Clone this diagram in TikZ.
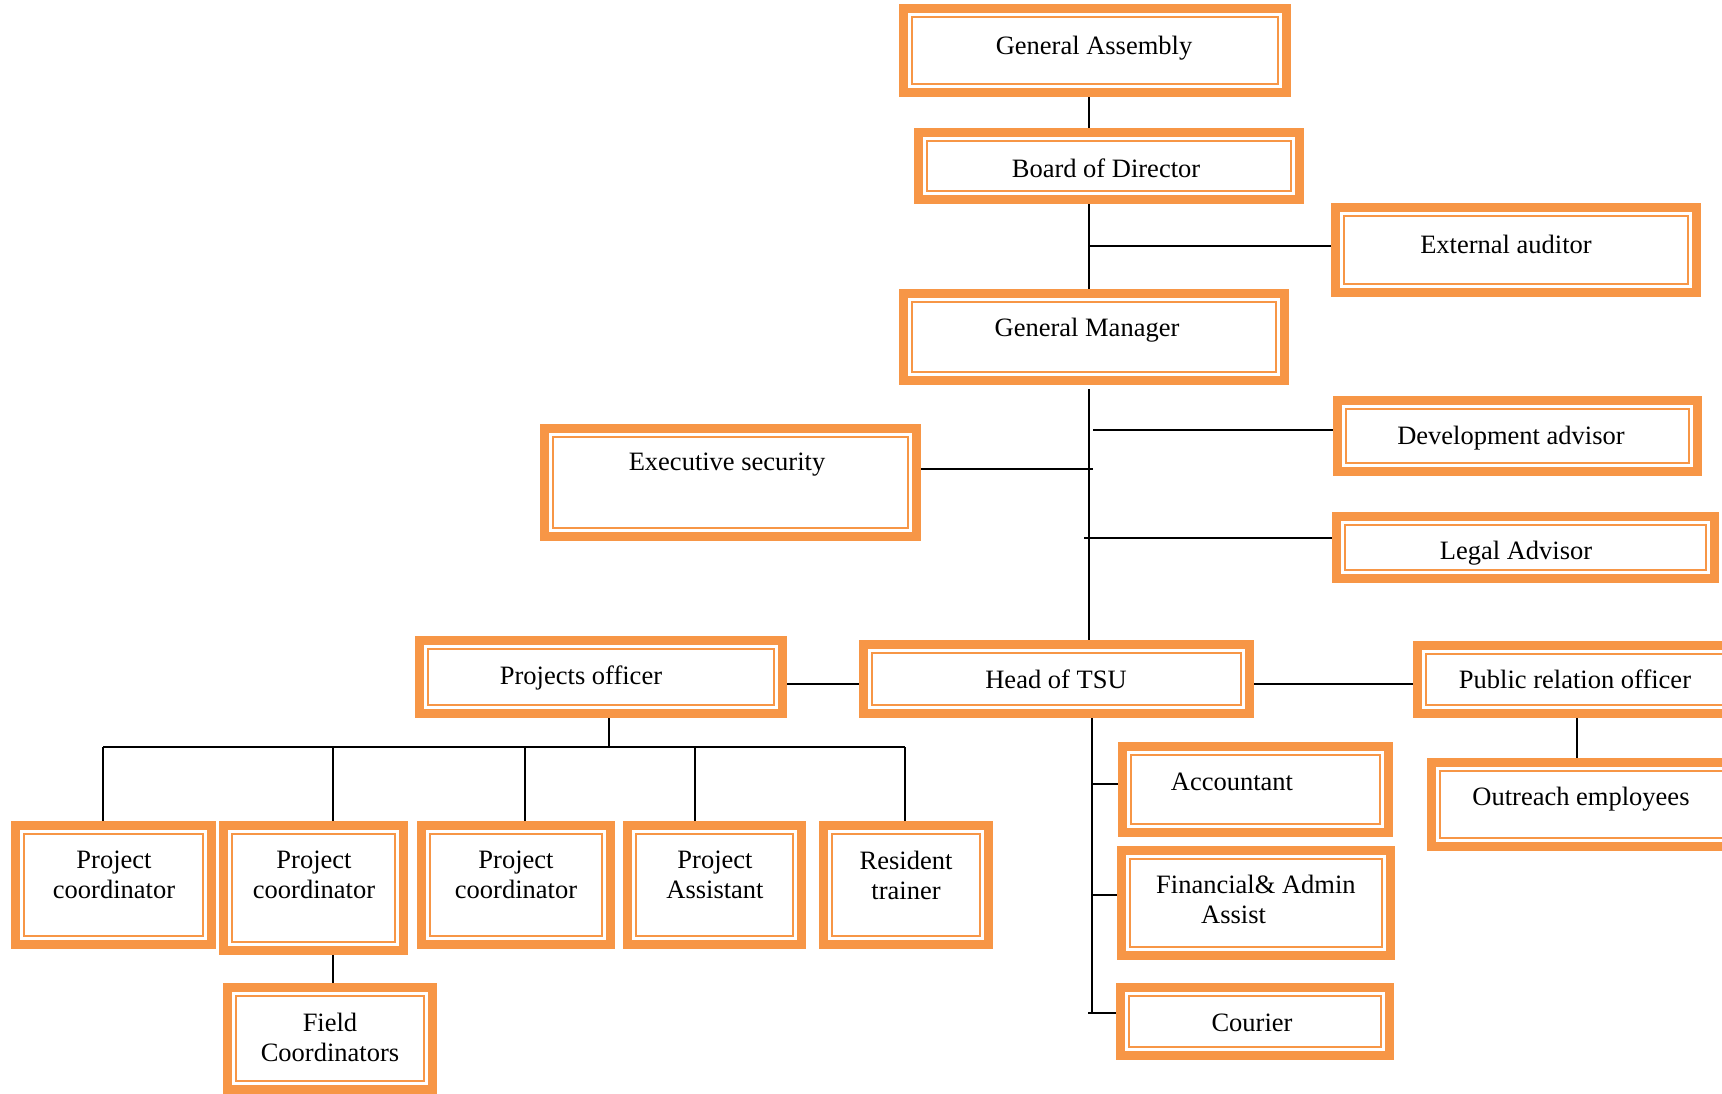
\documentclass[tikz,border=0pt]{standalone}
\usepackage{fontspec}
\setmainfont{Liberation Serif}
\usetikzlibrary{backgrounds,calc}
\definecolor{orng}{HTML}{F79646}
\tikzset{
 obox/.style={draw=orng, line width=9pt, fill=white, inner sep=0pt, outer sep=0pt, rectangle},
 oinner/.style={draw=orng, line width=2pt},
 lbl/.style={font=\fontsize{26.5}{30}\selectfont, align=center, inner sep=0pt},
 conn/.style={draw=black, line width=2pt},
}
\newcommand\obox[5]{%
  \pgfmathsetmacro\oBW{#4-#2-9}\pgfmathsetmacro\oBH{#5-#3-9}%
  \pgfmathsetmacro\oCX{(#2+#4)/2}\pgfmathsetmacro\oCY{(#3+#5)/2}%
  \node[obox, minimum width=\oBW pt, minimum height=\oBH pt] (#1) at (\oCX,\oCY) {};
  \draw[oinner] ([shift={(8.5,8.5)}]#1.north west) rectangle ([shift={(-8.5,-8.5)}]#1.south east);
}
\begin{document}
\begin{tikzpicture}[x=1pt,y=-1pt]
\useasboundingbox (0,0) rectangle (1722,1094);
\clip (0,0) rectangle (1722,1094);
% boxes
\obox{GA}{899}{4}{1291}{97}
\obox{BoD}{914}{128}{1304}{204}
\obox{EA}{1331}{203}{1701}{297}
\obox{GM}{899}{289}{1289}{385}
\obox{DA}{1333}{396}{1702}{476}
\obox{ES}{540}{424}{921}{541}
\obox{LA}{1332}{512}{1719}{583}
\obox{PO}{415}{636}{787}{718}
\obox{HT}{859}{640}{1254}{718}
\obox{PRO}{1413}{641}{1740}{718}
\obox{OE}{1427}{758}{1740}{851}
\obox{Acc}{1118}{742}{1393}{837}
\obox{Fin}{1117}{846}{1395}{960}
\obox{Cou}{1116}{983}{1394}{1060}
\obox{PC1}{11}{821}{216}{949}
\obox{PC2}{219}{821}{408}{955}
\obox{PC3}{417}{821}{615}{949}
\obox{PA}{623}{821}{806}{949}
\obox{RT}{819}{821}{993}{949}
\obox{FC}{223}{983}{437}{1094}
% labels
\node[lbl] (GA-t) at (1094,48) {General Assembly};
\node[lbl] (BoD-t) at (1106,168) {Board of Director};
\node[lbl] (EA-t) at (1506,244) {External auditor};
\node[lbl] (GM-t) at (1087,330) {General Manager};
\node[lbl] (DA-t) at (1511,438) {Development advisor};
\node[lbl] (ES-t) at (727,465) {Executive security};
\node[lbl] (LA-t) at (1516,553) {Legal Advisor};
\node[lbl] (PO-t) at (581,678) {Projects officer};
\node[lbl] (HT-t) at (1056,679) {Head of TSU};
\node[lbl] (PRO-t) at (1575,679) {Public relation officer};
\node[lbl] (OE-t) at (1581,799) {Outreach employees};
\node[lbl] (Acc-t) at (1232,782) {Accountant};
\node[lbl, align=left, anchor=north west] (Fin-t) at (1156,875) {Financial\& Admin\\\hspace*{45pt}Assist};
\node[lbl] (Cou-t) at (1252,1023) {Courier};
\node[lbl] (PC1-t) at (114,875) {Project\\coordinator};
\node[lbl] (PC2-t) at (314,875) {Project\\coordinator};
\node[lbl] (PC3-t) at (516,875) {Project\\coordinator};
\node[lbl] (PA-t) at (715,875) {Project\\Assistant};
\node[lbl] (RT-t) at (906,875) {Resident\\trainer};
\node[lbl] (FC-t) at (330,1037) {Field\\Coordinators};
% connector reference coordinates
\coordinate (sA) at (1089,0);
\coordinate (sB) at (1093,0);
\coordinate (sL) at (1084,0);
\coordinate (sH) at (1092,0);
\coordinate (sC) at (1088,0);
\coordinate (yGM) at (0,389);
\coordinate (yEA) at (0,246);
\coordinate (yDA) at (0,430);
\coordinate (yES) at (0,469);
\coordinate (yLA) at (0,538);
\coordinate (yHT) at (0,684);
\coordinate (yBus) at (0,747);
\coordinate (yAcc) at (0,784);
\coordinate (yFin) at (0,895);
\coordinate (yCou) at (0,1013);
\coordinate (xPO) at (609,0);
\coordinate (x1) at (103,0);
\coordinate (x2) at (333,0);
\coordinate (x3) at (525,0);
\coordinate (x4) at (695,0);
\coordinate (x5) at (905,0);
\coordinate (xOE) at (1577,0);
\begin{pgfonlayer}{background}
\draw[conn] (GA.south -| sA) -- (BoD.north -| sA);
\draw[conn] (BoD.south -| sA) -- (GM.north -| sA);
\draw[conn] (yEA -| sA) -- (yEA -| EA.west);
\draw[conn] (yGM -| sA) -- (HT.north -| sA);
\draw[conn] (yDA -| sB) -- (yDA -| DA.west);
\draw[conn] (yES -| ES.east) -- (yES -| sB);
\draw[conn] (yLA -| sL) -- (yLA -| LA.west);
\draw[conn] (yHT -| PO.east) -- (yHT -| HT.west);
\draw[conn] (yHT -| HT.east) -- (yHT -| PRO.west);
\draw[conn] (PRO.south -| xOE) -- (OE.north -| xOE);
\draw[conn] (PO.south -| xPO) -- (yBus -| xPO);
\draw[conn] (yBus -| x1) -- (yBus -| x5);
\draw[conn] (yBus -| x1) -- (PC1.north -| x1);
\draw[conn] (yBus -| x2) -- (PC2.north -| x2);
\draw[conn] (yBus -| x3) -- (PC3.north -| x3);
\draw[conn] (yBus -| x4) -- (PA.north -| x4);
\draw[conn] (yBus -| x5) -- (RT.north -| x5);
\draw[conn] (PC2.south -| x2) -- (FC.north -| x2);
\draw[conn] (HT.south -| sH) -- (yCou -| sH);
\draw[conn] (yAcc -| sH) -- (yAcc -| Acc.west);
\draw[conn] (yFin -| sH) -- (yFin -| Fin.west);
\draw[conn] (yCou -| sC) -- (yCou -| Cou.west);
\end{pgfonlayer}
\end{tikzpicture}
\end{document}
